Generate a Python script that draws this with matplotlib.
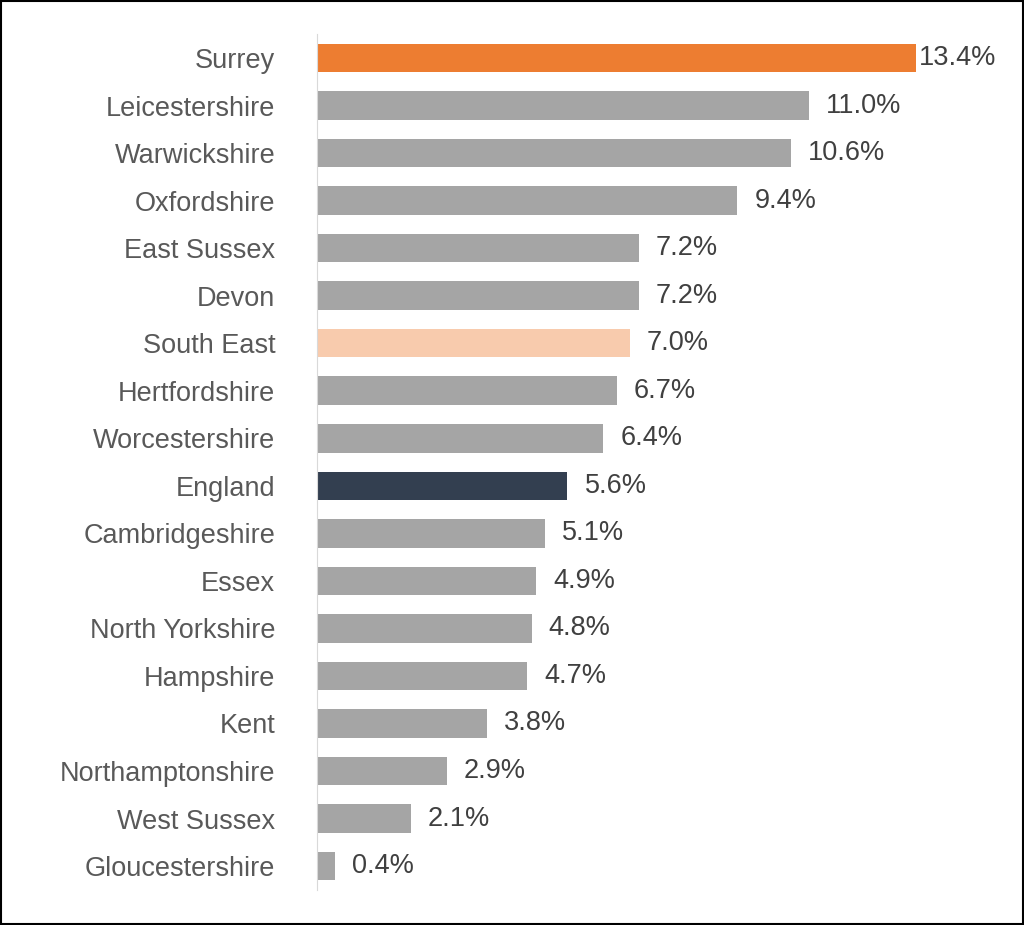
import matplotlib.pyplot as plt
import matplotlib.patches as patches

areas = ["Surrey", "Leicestershire", "Warwickshire", "Oxfordshire", "East Sussex",
         "Devon", "South East", "Hertfordshire", "Worcestershire", "England",
         "Cambridgeshire", "Essex", "North Yorkshire", "Hampshire", "Kent",
         "Northamptonshire", "West Sussex", "Gloucestershire"]
values = [13.4, 11.0, 10.6, 9.4, 7.2, 7.2, 7.0, 6.7, 6.4, 5.6,
          5.1, 4.9, 4.8, 4.7, 3.8, 2.9, 2.1, 0.4]

special = {"Surrey": "#ED7D31", "South East": "#F8CBAD", "England": "#333F50"}
colors = [special.get(a, "#A5A5A5") for a in areas]

plt.rcParams['font.family'] = ['Liberation Sans', 'DejaVu Sans']

fig = plt.figure(figsize=(10.24, 9.25), dpi=100)
ax = fig.add_axes([0.3096, 0.038, 0.677, 0.925])
ypos = list(range(len(areas)))
ax.barh(ypos, values, height=0.6, color=colors)
ax.set_ylim(len(areas) - 0.5, -0.5)
ax.set_xlim(0, 15.5)
ax.set_yticks(ypos)
ax.set_yticklabels(areas, fontsize=19.5, color="#595959")
ax.tick_params(axis='y', length=0, pad=30)
ax.set_xticks([])
for s in ["top", "right", "bottom"]:
    ax.spines[s].set_visible(False)
ax.spines["left"].set_color("#D9D9D9")

for i, v in enumerate(values):
    off = 0.05 if v > 12 else 0.38
    ax.text(v + off, i, f"{v:.1f}%", va="center", ha="left",
            fontsize=19.5, color="#404040")

fig.patches.append(patches.Rectangle((0.001, 0.001), 0.998, 0.998, transform=fig.transFigure,
                                     fill=False, edgecolor="black", linewidth=1.5))
fig.savefig("out.png", dpi=100)
